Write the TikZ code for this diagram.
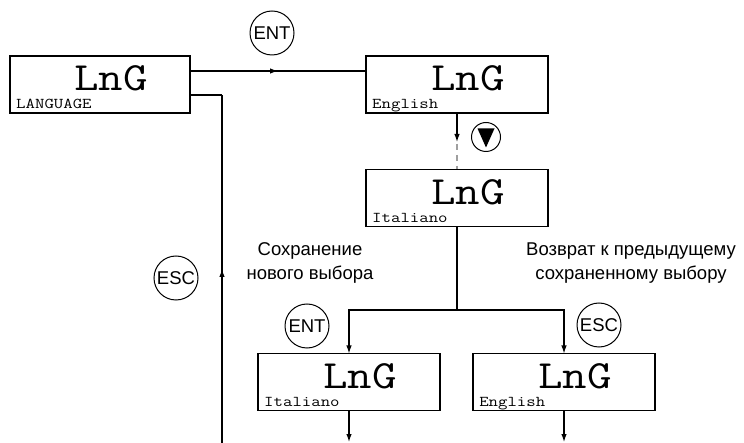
\documentclass[tikz,border=0pt]{standalone}
\usepackage{fontspec}
\newfontfamily\sansf{Liberation Sans}
\usetikzlibrary{arrows.meta,calc,decorations.markings}
\begin{document}
\begin{tikzpicture}[x=1pt,y=-1pt,
 lcd/.style={draw, line width=1.3pt, minimum width=182pt, minimum height=57pt, inner sep=0pt, outer sep=0pt},
 big/.style={font=\ttfamily\fontsize{40}{40}\selectfont, xscale=1.19, inner sep=0pt, anchor=base},
 small/.style={font=\ttfamily\fontsize{15}{15}\selectfont, xscale=1.22, inner sep=0pt, anchor=base west},
 key/.style={circle, draw, line width=1pt, minimum size=44pt, inner sep=0pt, font=\sansf\fontsize{18.5}{18.5}\selectfont},
 conn/.style={line width=1.2pt},
 tip/.style={-{Latex[length=8pt,width=5.5pt]}},
 midarrow/.style={postaction={decorate}, decoration={markings, mark=at position 0.5 with {\arrow{Latex[length=8pt,width=5.5pt]}}}},
 note/.style={font=\sansf\fontsize{18.5}{24}\selectfont, anchor=base}
]
\useasboundingbox (0,0) rectangle (744,443);

% display boxes
\node[lcd, minimum width=180pt] (b1) at (100,84.5) {};
\node[lcd] (b2) at (457,84.5) {};
\node[lcd] (b3) at (457,198) {};
\node[lcd] (b4) at (349,382) {};
\node[lcd] (b5) at (564,382) {};

\node[big] (t1) at ($(b1.north)+(11pt,-35pt)$) {LnG};
\node[big] (t2) at ($(b2.north)+(11pt,-35pt)$) {LnG};
\node[big] (t3) at ($(b3.north)+(11pt,-35pt)$) {LnG};
\node[big] (t4) at ($(b4.north)+(11pt,-35pt)$) {LnG};
\node[big] (t5) at ($(b5.north)+(11pt,-35pt)$) {LnG};

\node[small] (s1) at ($(b1.south west)+(6pt,4pt)$) {LANGUAGE};
\node[small] (s2) at ($(b2.south west)+(6pt,4pt)$) {English};
\node[small] (s3) at ($(b3.south west)+(6pt,4pt)$) {Italiano};
\node[small] (s4) at ($(b4.south west)+(6pt,4pt)$) {Italiano};
\node[small] (s5) at ($(b5.south west)+(6pt,4pt)$) {English};

% keys
\node[key] (k1) at (272,33) {ENT};
\node[key] (k2) at (176,278) {ESC};
\node[key, minimum size=29pt] (k3) at (486,137) {};
\fill ($(k3)+(-8.5pt,8.5pt)$) -- ($(k3)+(8.5pt,8.5pt)$) -- ($(k3)+(0pt,-10.5pt)$) -- cycle;
\node[key] (k4) at (307,326) {ENT};
\node[key] (k5) at (599,325) {ESC};

% notes
\node[note] (n1) at (310,256) {Сохранение};
\node[note] (n2) at (310,280) {нового выбора};
\node[note] (n3) at (631,256) {Возврат к предыдущему};
\node[note] (n4) at (631,280) {сохраненному выбору};

% connectors
\draw[conn, midarrow] ($(b1.east)+(0pt,13.5pt)$) -- ($(b2.west)+(0pt,13.5pt)$);

\coordinate (escin) at (222,443);
\coordinate (escc) at (222,95);
\draw[conn, midarrow] (escin) -- (escc);
\draw[conn] (escc) -- ($(b1.east)+(0pt,-10.5pt)$);

\coordinate (d1) at (457,142);
\draw[conn, tip] (b2.south) -- (d1);
\draw[line width=1.2pt, gray!75, dash pattern=on 6pt off 5pt] ($(d1)+(0,2)$) -- (b3.north);

\coordinate (j) at (457,310);
\draw[conn] (b3.south) -- (j);
\draw[conn, tip] (j) -| (b4.north);
\draw[conn, tip] (j) -| (b5.north);

\coordinate (o4) at (349,442);
\coordinate (o5) at (564,442);
\draw[conn, tip] (b4.south) -- (o4);
\draw[conn, tip] (b5.south) -- (o5);
\end{tikzpicture}
\end{document}
